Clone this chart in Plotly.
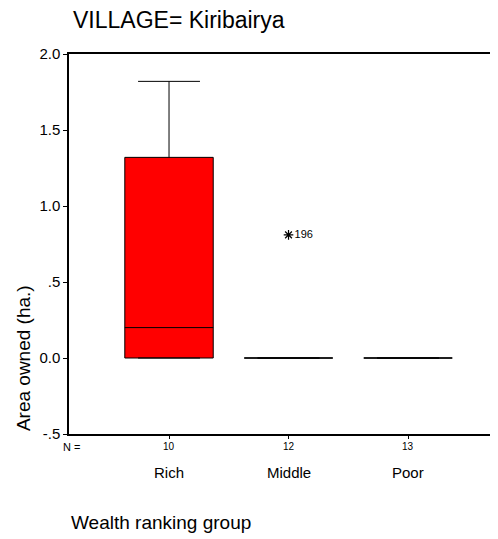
import plotly.graph_objects as go

# Data
categories = ["Rich", "Middle", "Poor"]
positions = [1, 2, 3]
n_counts = [10, 12, 13]
q1 = [0.0, 0.0, 0.0]
median = [0.2, 0.0, 0.0]
q3 = [1.32, 0.0, 0.0]
lowerfence = [0.0, 0.0, 0.0]
upperfence = [1.82, 0.0, 0.0]
outlier_x = [2]
outlier_y = [0.81]
outlier_labels = ["196"]
ytick_vals = [-0.5, 0.0, 0.5, 1.0, 1.5, 2.0]
ytick_text = ["-.5", "0.0", ".5", "1.0", "1.5", "2.0"]

FONT = "Liberation Sans, Arial, sans-serif"

fig = go.Figure()
fig.add_trace(go.Box(
    x=positions, q1=q1, median=median, q3=q3,
    lowerfence=lowerfence, upperfence=upperfence,
    width=0.74, whiskerwidth=0.7,
    fillcolor="#ff0000", line=dict(color="black", width=1),
    boxpoints=False, showlegend=False,
))
fig.add_trace(go.Scatter(
    x=outlier_x, y=outlier_y, mode="markers+text",
    marker=dict(symbol="asterisk-open", size=8, color="black",
                line=dict(color="black", width=1.2)),
    text=outlier_labels, textposition="middle right",
    textfont=dict(family=FONT, size=11, color="black"),
    showlegend=False,
))

annotations = []
for p, n in zip(positions, n_counts):
    annotations.append(dict(x=p, xref="x", y=-0.034, yref="paper",
                            text=str(n), showarrow=False,
                            font=dict(family=FONT, size=10, color="black"),
                            xanchor="center", yanchor="middle"))
for p, c in zip(positions, categories):
    annotations.append(dict(x=p, xref="x", y=-0.1026, yref="paper",
                            text=c, showarrow=False,
                            font=dict(family=FONT, size=15, color="black"),
                            xanchor="center", yanchor="middle"))
annotations.append(dict(x=0.005, xref="paper", y=-0.034, yref="paper",
                        text="N =", showarrow=False,
                        font=dict(family=FONT, size=11, color="black"),
                        xanchor="center", yanchor="middle"))
annotations.append(dict(x=-0.107, xref="paper", y=0.2, yref="paper",
                        text="Area owned (ha.)", textangle=-90, showarrow=False,
                        font=dict(family=FONT, size=19, color="black"),
                        xanchor="center", yanchor="middle"))
annotations.append(dict(x=0.0, xref="paper", y=-0.2316, yref="paper",
                        text="Wealth ranking group", showarrow=False,
                        font=dict(family=FONT, size=19, color="black"),
                        xanchor="left", yanchor="middle"))
annotations.append(dict(x=0.005, xref="paper", y=1.089, yref="paper",
                        text="VILLAGE= Kiribairya", showarrow=False,
                        font=dict(family=FONT, size=23, color="black"),
                        xanchor="left", yanchor="middle"))

# page body has an 8px margin, so the figure is offset by 8px
fig.update_layout(
    width=490, height=531,
    margin=dict(l=61, r=0, t=46, b=105, pad=0),
    paper_bgcolor="white", plot_bgcolor="white",
    font=dict(family=FONT, color="black"),
    annotations=annotations,
    xaxis=dict(range=[0.163, 3.753], tickvals=positions, showticklabels=False,
               ticks="outside", ticklen=3, tickcolor="black", tickwidth=1,
               showline=True, linecolor="black", linewidth=1.5, mirror=True,
               showgrid=False, zeroline=False, fixedrange=True),
    yaxis=dict(range=[-0.5, 2.0], tickvals=ytick_vals, ticktext=ytick_text,
               ticks="outside", ticklen=4, tickcolor="black", tickwidth=1,
               tickfont=dict(family=FONT, size=15, color="black"),
               showline=True, linecolor="black", linewidth=1.5,
               showgrid=False, zeroline=False, fixedrange=True),
)

fig.write_html("out.html")
